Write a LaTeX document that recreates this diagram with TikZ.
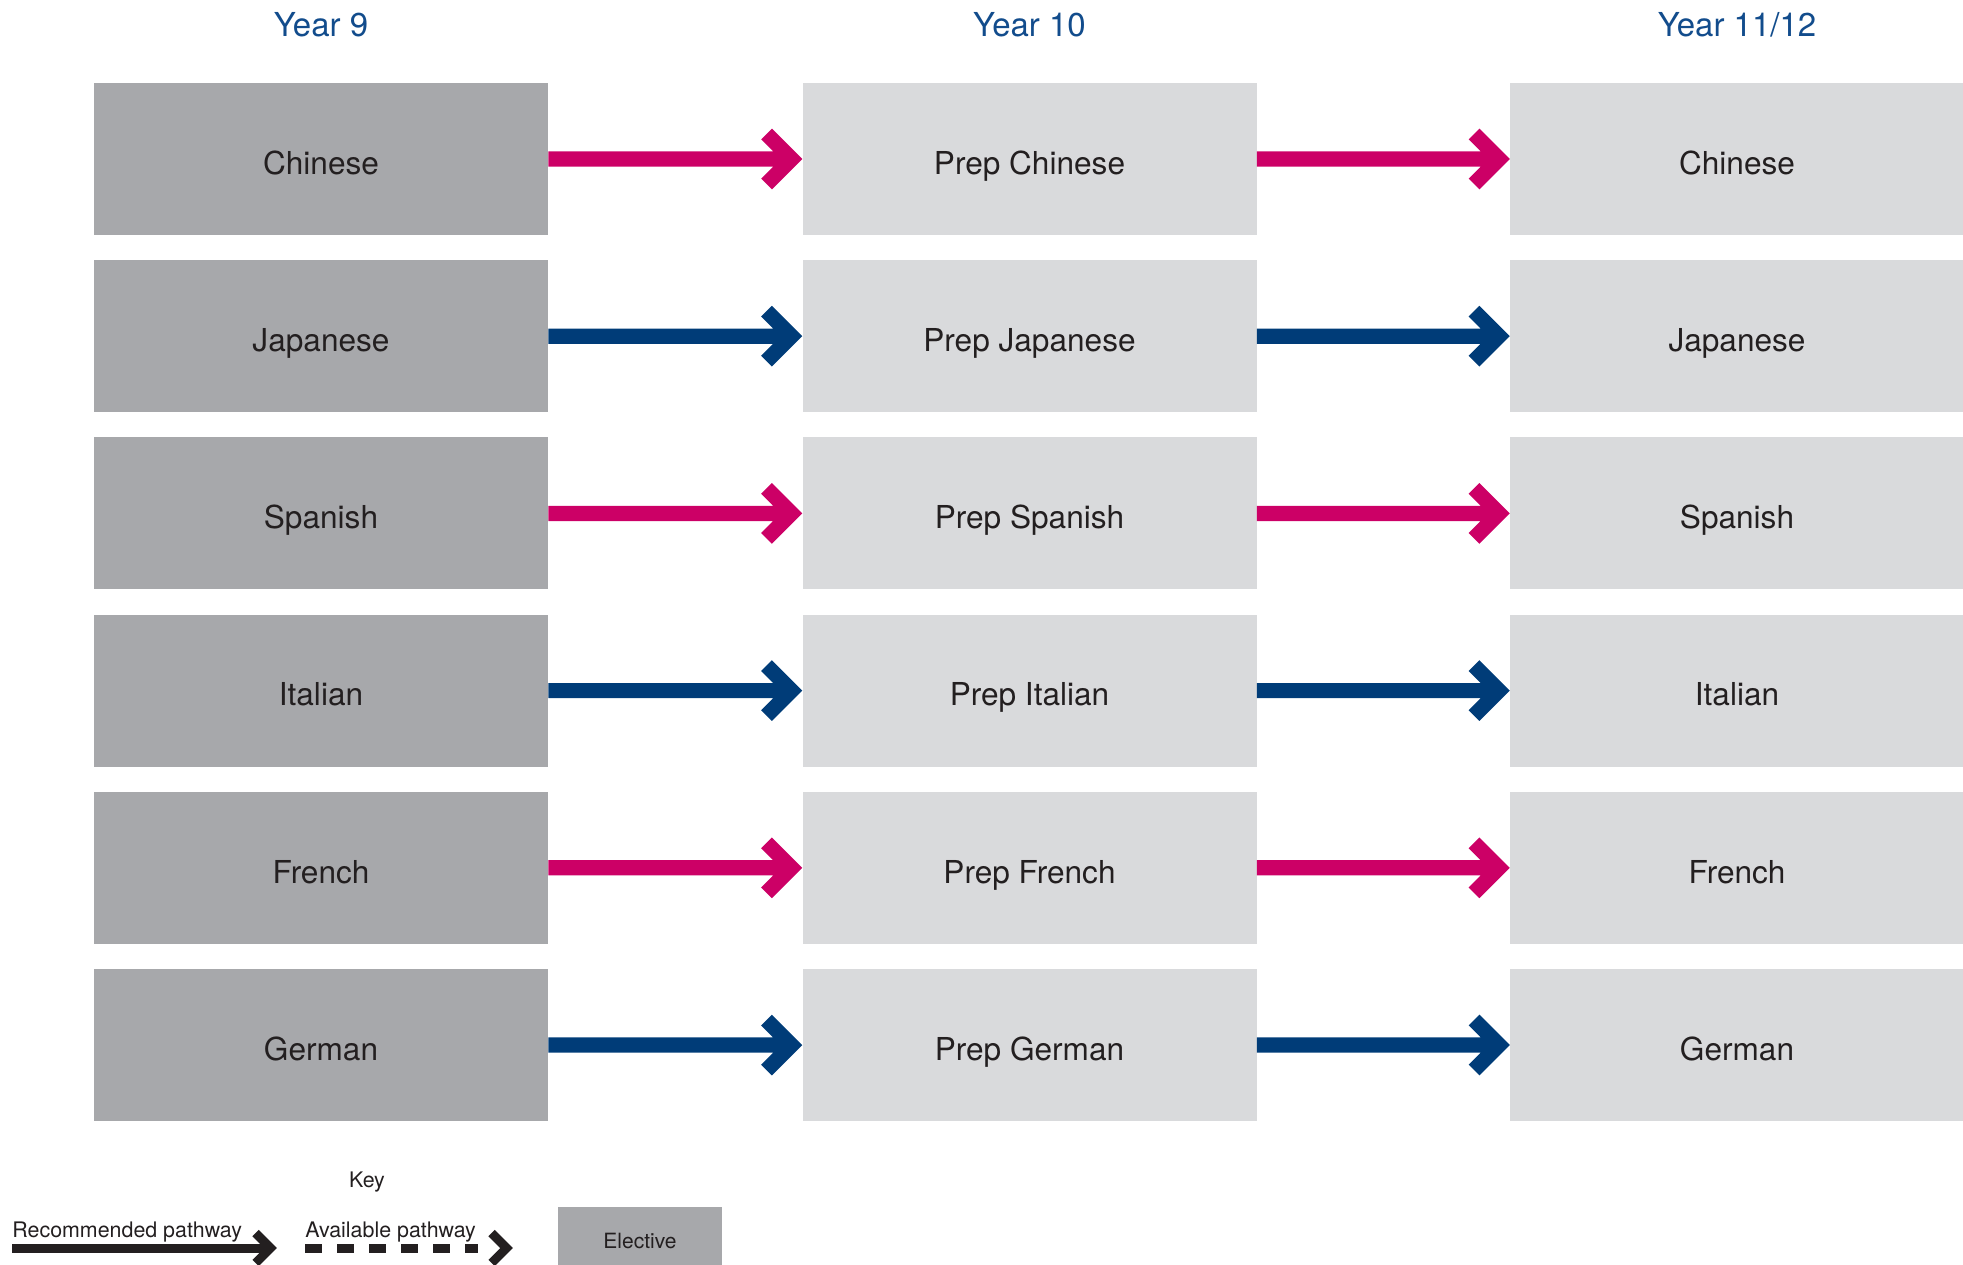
\documentclass[tikz,border=0pt]{standalone}
\usepackage{fontspec}
\setmainfont{TeX Gyre Heros}
\definecolor{electivegrey}{HTML}{A7A8AB}
\definecolor{prepgrey}{HTML}{D9DADC}
\definecolor{pathpink}{HTML}{CC0066}
\definecolor{pathblue}{HTML}{003C78}
\definecolor{yearblue}{HTML}{124C8C}
\definecolor{ink}{HTML}{231F20}
\tikzset{
  course/.style={minimum width=227pt, minimum height=76pt, inner sep=0pt, text=ink,
    font=\fontsize{15.8}{18}\selectfont, text height=15.3pt, text depth=0pt},
  electivebox/.style={course, fill=electivegrey},
  prepbox/.style={course, fill=prepgrey},
  yearhead/.style={text=yearblue, font=\fontsize{16.5}{19}\selectfont, inner sep=0pt},
  % thick shaft with an open chevron head ending on the target point
  pathway/.style={line width=7.6pt, line join=miter, line cap=butt, to path={
     (\tikztostart) -- ([xshift=-6pt]\tikztotarget)
     ([xshift=-17.8pt,yshift=12.5pt]\tikztotarget) -- ([xshift=-5.3pt]\tikztotarget)
       -- ([xshift=-17.8pt,yshift=-12.5pt]\tikztotarget)}},
  keytext/.style={text=ink, font=\fontsize{10.7}{12}\selectfont, inner sep=0pt},
  keyshaft/.style={draw=ink, line width=4.5pt, line cap=butt},
  keyhead/.style={draw=ink, line width=4.5pt, line join=miter, line cap=butt, to path={
     ([xshift=-10.7pt,yshift=7.5pt]\tikztotarget) -- ([xshift=-3.2pt]\tikztotarget)
       -- ([xshift=-10.7pt,yshift=-7.5pt]\tikztotarget)}},
  keybox/.style={fill=electivegrey, minimum width=82pt, minimum height=34pt, inner sep=0pt,
    text=ink, font=\fontsize{10.5}{12}\selectfont, text height=7.6pt, text depth=0pt}
}
\begin{document}
\begin{tikzpicture}[x=0.5pt, y=-0.5pt]
\useasboundingbox (0,0) rectangle (1963,1264);

% column headings
\node[yearhead] (h9)  at (321,24.5)    {Year 9};
\node[yearhead] (h10) at (1029.5,24.5) {Year 10};
\node[yearhead] (h11) at (1737,24.5)   {Year 11/12};

% one row per language: elective, preparatory course, senior course
\foreach \lab/\col [count=\i] in {Chinese/pathpink, Japanese/pathblue, Spanish/pathpink,
                                   Italian/pathblue, French/pathpink, German/pathblue}{
  \pgfmathsetmacro\y{159+(\i-1)*177.2}
  \node[electivebox] (a\i) at (321,\y)    {\lab};
  \node[prepbox]     (b\i) at (1029.5,\y) {Prep \lab};
  \node[prepbox]     (c\i) at (1737,\y)   {\lab};
  \draw[pathway, draw=\col] (a\i.east) to (b\i.west);
  \draw[pathway, draw=\col] (b\i.east) to (c\i.west);
}

% key
\node[keytext, anchor=base] (key) at (367,1187) {Key};
\node[keytext, anchor=base west] (rec) at (12,1237) {Recommended pathway};
\node[keytext, anchor=base west] (avail) at (305,1237) {Available pathway};
\coordinate (recS) at (12,1248);
\coordinate (recE) at (277,1248);
\coordinate (avS) at (305,1248);
\coordinate (avD) at (478,1248);
\coordinate (avE) at (513,1248);
\draw[keyshaft] (recS) -- ([xshift=-3.5pt]recE);
\draw[keyhead] (recS) to (recE);
\draw[keyshaft, dash pattern=on 8.5pt off 7.5pt] (avS) -- (avD);
\draw[keyhead] (avD) to (avE);
\node[keybox] (el) at (640,1241) {Elective};
\end{tikzpicture}
\end{document}
